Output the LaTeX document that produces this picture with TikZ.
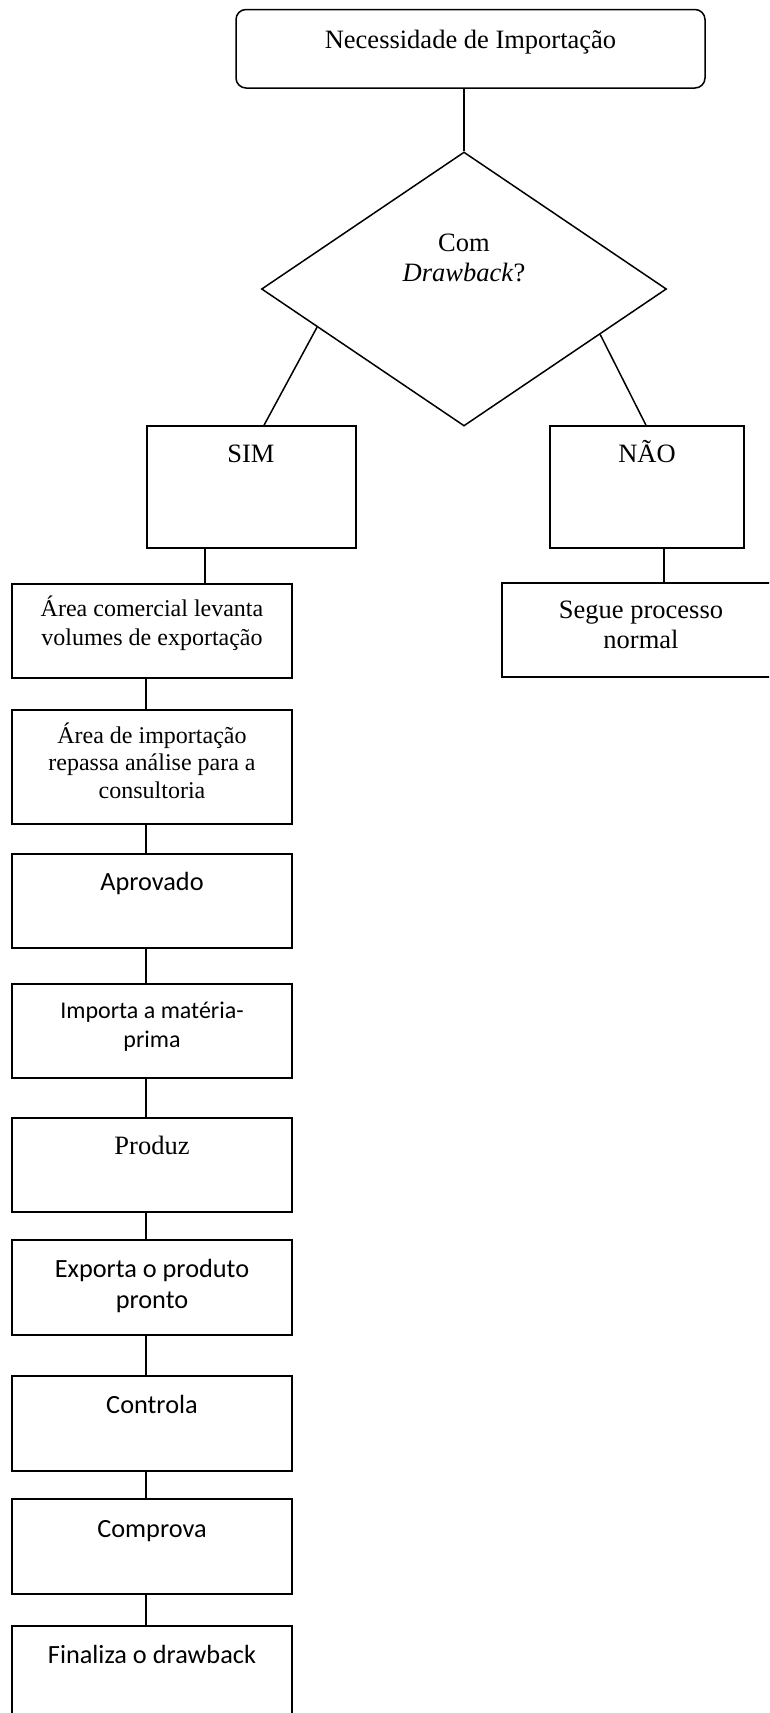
\documentclass[tikz,border=0pt]{standalone}
\usepackage{fontspec}
\setmainfont{Liberation Serif}
\newfontfamily\calibrifont{Carlito}
\usetikzlibrary{shapes.geometric,calc}
\tikzset{
  ln/.style={line width=1.5pt, draw=black},
  boxs/.style={ln, rectangle, inner sep=0pt, fill=white},
  tms/.style={inner sep=0pt, anchor=base, align=center, font=\fontsize{26.5}{30}\selectfont},
  tmsm/.style={inner sep=0pt, anchor=base, align=center, font=\fontsize{24}{29}\selectfont},
  cal/.style={inner sep=0pt, anchor=base, align=center, font=\calibrifont\fontsize{26.3}{31}\selectfont},
  calm/.style={inner sep=0pt, anchor=base, align=center, font=\calibrifont\fontsize{24}{29}\selectfont},
}
\begin{document}
\begin{tikzpicture}[x=1pt,y=-1pt]
\fill[white] (0,0) rectangle (769,1713);
\clip (0,0) rectangle (769,1713);
% boxes
\node[boxs, rounded corners=10pt, minimum width=469pt, minimum height=78.5pt] (top) at (470.5,48.75) {};
\node[ln, diamond, inner sep=0pt, minimum width=405pt, minimum height=274pt] (d) at (464,289) {};
\node[boxs, minimum width=209pt, minimum height=122pt] (sim) at (251.5,487) {};
\node[boxs, minimum width=194pt, minimum height=122pt] (nao) at (647,487) {};
\node[boxs, minimum width=280pt, minimum height=94pt] (ac) at (152,631) {};
\node[boxs, minimum width=278pt, minimum height=94pt] (seg) at (641,630) {};
\node[boxs, minimum width=280pt, minimum height=114pt] (ai) at (152,767) {};
\node[boxs, minimum width=280pt, minimum height=94pt] (ap) at (152,901) {};
\node[boxs, minimum width=280pt, minimum height=94pt] (im) at (152,1031) {};
\node[boxs, minimum width=280pt, minimum height=94pt] (pr) at (152,1165) {};
\node[boxs, minimum width=280pt, minimum height=95pt] (ex) at (152,1287.5) {};
\node[boxs, minimum width=280pt, minimum height=95pt] (co) at (152,1423.5) {};
\node[boxs, minimum width=280pt, minimum height=95pt] (cp) at (152,1546.5) {};
\node[boxs, minimum width=280pt, minimum height=94pt] (fi) at (152,1673) {};
% texts (base = baseline of the last line)
\node[tms] (t0) at (470.5,48) {Necessidade de Importação};
\node[tms] (td) at (464,281) {Com\\\textit{Drawback}?};
\node[tms] (tsim) at (251,462) {SIM};
\node[tms] (tnao) at (647,462) {NÃO};
\node[tmsm] (tac) at (152,645) {Área comercial levanta\\volumes de exportação};
\node[tms] (tseg) at (641,648) {Segue processo\\normal};
\node[tmsm, font=\fontsize{24}{27.5}\selectfont] (tai) at (152,798) {Área de importação\\repassa análise para a\\consultoria};
\node[cal] (tap) at (152,890) {Aprovado};
\node[calm] (tim) at (152,1047) {Importa a matéria-\\prima};
\node[tms] (tpr) at (152,1154) {Produz};
\node[cal] (tex) at (152,1308) {Exporta o produto\\pronto};
\node[cal] (tco) at (152,1413) {Controla};
\node[cal] (tcp) at (152,1537) {Comprova};
\node[cal] (tfi) at (152,1663) {Finaliza o drawback};
% connectors
\draw[ln] (d.north |- top.south) -- (d.north);
\draw[ln] ($(d.west)!0.277!(d.south)$) -- ([xshift=12.5pt]sim.north);
\draw[ln] ($(d.east)!0.33!(d.south)$) -- ([xshift=-1pt]nao.north);
\coordinate (s1) at ([xshift=-46.5pt]sim.south);
\draw[ln] (s1) -- (s1 |- ac.north);
\coordinate (n1) at ([xshift=17pt]nao.south);
\draw[ln] (n1) -- (n1 |- seg.north);
\foreach \a/\b in {ac/ai, ai/ap, ap/im, im/pr, pr/ex, ex/co, co/cp, cp/fi}{
  \draw[ln] ([xshift=-6pt]\a.south) -- ([xshift=-6pt]\b.north);
}
\end{tikzpicture}
\end{document}
